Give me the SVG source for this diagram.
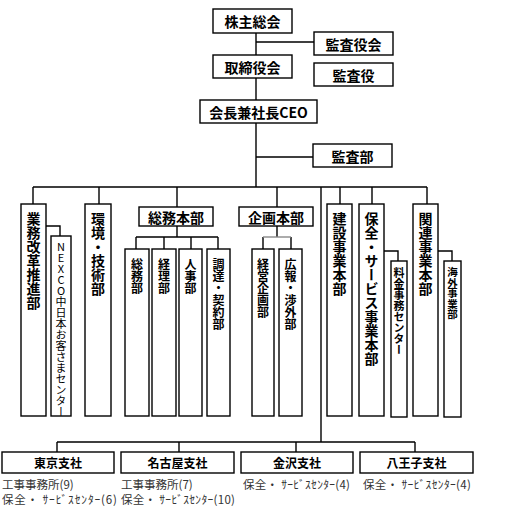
<svg xmlns="http://www.w3.org/2000/svg" width="510" height="531" viewBox="0 0 510 531">
<style>
.b{fill:#fff;stroke:#000;stroke-width:1.4}
.c{fill:none;stroke:#000;stroke-width:1.4}
.g{fill:none;stroke:#888;stroke-width:1.4}
.t{font-family:"Noto Sans CJK JP","Noto Sans CJK SC",sans-serif;font-weight:bold;font-size:14px;text-anchor:middle;dominant-baseline:central;fill:#000}
.s{font-size:12px}
.v{font-family:"Noto Sans CJK JP","Noto Sans CJK SC",sans-serif;font-weight:bold;font-size:14px;writing-mode:vertical-rl;text-orientation:upright;text-anchor:start;fill:#000}
.v12{font-size:12px}
.v11{font-size:11px}
.vr{font-weight:normal}
.n{font-family:"Noto Sans CJK JP","Noto Sans CJK SC",sans-serif;font-size:11.5px;fill:#333}
</style>
<rect width="510" height="531" fill="#fff"/>
<g id="connectors">
<path class="c" d="M256 33V55M256 42H314M256 78V100M256 123V187M256 157H313"/>
<path class="c" d="M33 187H427M33 187V204M99 187V204M177 187V207M277 187V207M340 187V204M372 187V204M427 187V204M321 187V442"/>
<path class="c" d="M46 226H60V236"/>
<path class="c" d="M177 226V237M136 237H218M136 237V249M164 237V249M191 237V249M218 237V249"/>
<path class="c" d="M277 226V237M263 237V249M291 237V249"/>
<path class="g" d="M263 237H291"/>
<path class="c" d="M384 251H398V261M438 251H452V261"/>
<path class="c" d="M57 442H415M57 442V452M179 442V452M296 442V452M415 442V452"/>
</g>
<g id="kabunushi"><rect class="b" x="213" y="9" width="79" height="24"/><text class="t" x="252.5" y="21">株主総会</text></g>
<g id="kansayakukai"><rect class="b" x="314" y="32" width="79" height="23"/><text class="t" x="353.5" y="43.5">監査役会</text></g>
<g id="torishimariyakukai"><rect class="b" x="213" y="55" width="79" height="23"/><text class="t" x="252.5" y="66.5">取締役会</text></g>
<g id="kansayaku"><rect class="b" x="314" y="63" width="79" height="23"/><text class="t" x="353.5" y="74.5">監査役</text></g>
<g id="ceo"><rect class="b" x="200" y="100" width="117" height="23"/><text class="t" x="258.5" y="111.5">会長兼社長CEO</text></g>
<g id="kansabu"><rect class="b" x="313" y="144" width="79" height="23"/><text class="t" x="352.5" y="155.5">監査部</text></g>
<g id="gyomukaikaku"><rect class="b" x="21" y="204" width="25" height="212"/><text class="v" x="33.5" y="212">業務改革推進部</text></g>
<g id="nexco"><rect class="b" x="51" y="236" width="20" height="180"/><text class="v v11 vr" x="61" y="241">NEXCO中日本お客さまセンター</text></g>
<g id="kankyo"><rect class="b" x="85" y="204" width="26" height="212"/><text class="v" x="98" y="212">環境・技術部</text></g>
<g id="somuhonbu"><rect class="b" x="139" y="207" width="74" height="19"/><text class="t" x="176" y="216.5">総務本部</text></g>
<g id="somubu"><rect class="b" x="125" y="249" width="24" height="167"/><text class="v v12" x="137" y="258">総務部</text></g>
<g id="keiribu"><rect class="b" x="152" y="249" width="24" height="167"/><text class="v v12" x="164" y="258">経理部</text></g>
<g id="jinjibu"><rect class="b" x="179" y="249" width="23" height="167"/><text class="v v12" x="190.5" y="258">人事部</text></g>
<g id="chotatsu"><rect class="b" x="207" y="249" width="23" height="167"/><text class="v v12" x="218.5" y="258">調達・契約部</text></g>
<g id="kikakuhonbu"><rect class="b" x="239" y="207" width="74" height="19"/><text class="t" x="276" y="216.5">企画本部</text></g>
<g id="keieikikaku"><rect class="b" x="252" y="249" width="22" height="167"/><text class="v v12" x="263" y="258">経営企画部</text></g>
<g id="koho"><rect class="b" x="279" y="249" width="23" height="167"/><text class="v v12" x="290.5" y="258">広報・渉外部</text></g>
<g id="kensetsu"><rect class="b" x="327" y="204" width="25" height="212"/><text class="v" x="339.5" y="212">建設事業本部</text></g>
<g id="hozen"><rect class="b" x="359" y="204" width="25" height="212"/><text class="v" x="371.5" y="212">保全・サービス事業本部</text></g>
<g id="ryokin"><rect class="b" x="391" y="261" width="16" height="156"/><text class="v v11" x="399" y="267">料金事務センター</text></g>
<g id="kanren"><rect class="b" x="413" y="204" width="25" height="212"/><text class="v" x="425.5" y="212">関連事業本部</text></g>
<g id="kaigai"><rect class="b" x="444" y="261" width="17" height="156"/><text class="v" style="font-size:10.5px" x="452.5" y="267">海外事業部</text></g>
<g id="tokyo"><rect class="b" x="2" y="452" width="112" height="21"/><text class="t s" x="58" y="462.5">東京支社</text>
<text class="n"><tspan x="2" y="489">工事事務所(9)</tspan><tspan x="2" y="503.5" textLength="115" lengthAdjust="spacing">保全・ ｻｰﾋﾞｽｾﾝﾀｰ(6)</tspan></text></g>
<g id="nagoya"><rect class="b" x="121" y="452" width="113" height="21"/><text class="t s" x="177.5" y="462.5">名古屋支社</text>
<text class="n"><tspan x="121" y="489">工事事務所(7)</tspan><tspan x="121" y="503.5" textLength="114" lengthAdjust="spacing">保全・ ｻｰﾋﾞｽｾﾝﾀｰ(10)</tspan></text></g>
<g id="kanazawa"><rect class="b" x="241" y="452" width="112" height="21"/><text class="t s" x="297" y="462.5">金沢支社</text>
<text class="n" x="243" y="489" textLength="107" lengthAdjust="spacing">保全・ ｻｰﾋﾞｽｾﾝﾀｰ(4)</text></g>
<g id="hachioji"><rect class="b" x="360" y="452" width="113" height="21"/><text class="t s" x="416.5" y="462.5">八王子支社</text>
<text class="n" x="363" y="489" textLength="108" lengthAdjust="spacing">保全・ ｻｰﾋﾞｽｾﾝﾀｰ(4)</text></g>
</svg>
